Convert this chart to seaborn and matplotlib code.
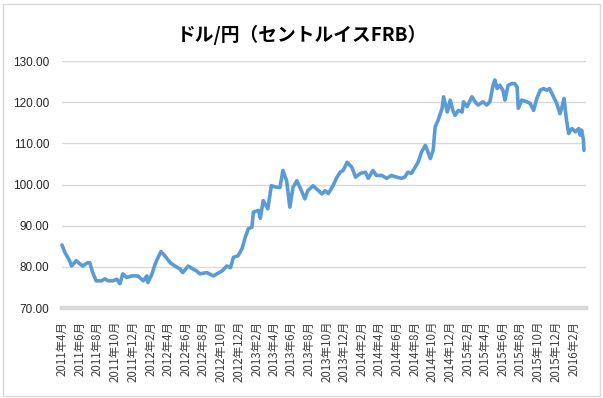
import matplotlib
matplotlib.use("Agg")
import matplotlib.pyplot as plt
from matplotlib.patches import Rectangle
import seaborn as sns
import pandas as pd

# ---- data ----
dates = [
    "2011-04-01", "2011-04-11", "2011-04-27", "2011-05-04", "2011-05-20", "2011-06-02",
    "2011-06-12", "2011-06-28", "2011-07-06", "2011-07-16", "2011-07-28", "2011-08-16",
    "2011-08-27", "2011-09-07", "2011-09-24", "2011-10-07", "2011-10-18", "2011-10-28",
    "2011-11-11", "2011-11-28", "2011-12-19", "2012-01-07", "2012-01-19", "2012-01-23",
    "2012-02-06", "2012-02-17", "2012-02-27", "2012-03-08", "2012-03-21", "2012-04-09",
    "2012-04-25", "2012-05-12", "2012-05-22", "2012-06-10", "2012-06-26", "2012-07-09",
    "2012-07-20", "2012-08-13", "2012-09-05", "2012-09-17", "2012-10-05", "2012-10-21",
    "2012-11-03", "2012-11-13", "2012-11-29", "2012-12-13", "2012-12-24", "2013-01-04",
    "2013-01-16", "2013-01-21", "2013-02-08", "2013-02-14", "2013-02-24", "2013-03-12",
    "2013-03-24", "2013-04-12", "2013-04-23", "2013-05-03", "2013-05-16", "2013-05-27",
    "2013-06-07", "2013-06-20", "2013-07-01", "2013-07-18", "2013-07-28", "2013-08-15",
    "2013-09-03", "2013-09-15", "2013-09-26", "2013-10-07", "2013-10-23", "2013-11-06",
    "2013-11-17", "2013-11-27", "2013-12-11", "2013-12-27", "2014-01-09", "2014-01-26",
    "2014-02-12", "2014-02-22", "2014-03-10", "2014-03-22", "2014-04-10", "2014-04-26",
    "2014-05-13", "2014-05-30", "2014-06-17", "2014-06-28", "2014-07-09", "2014-07-21",
    "2014-08-03", "2014-08-13", "2014-08-25", "2014-09-07", "2014-09-14", "2014-09-24",
    "2014-10-04", "2014-10-11", "2014-10-21", "2014-11-04", "2014-11-09", "2014-11-22",
    "2014-12-02", "2014-12-11", "2014-12-19", "2014-12-30", "2015-01-12", "2015-01-17",
    "2015-01-29", "2015-02-15", "2015-02-26", "2015-03-08", "2015-03-25", "2015-04-07",
    "2015-04-18", "2015-04-29", "2015-05-05", "2015-05-13", "2015-05-22", "2015-06-02",
    "2015-06-09", "2015-06-20", "2015-07-02", "2015-07-13", "2015-07-21", "2015-07-25",
    "2015-08-06", "2015-08-23", "2015-09-04", "2015-09-16", "2015-09-27", "2015-10-09",
    "2015-10-20", "2015-11-01", "2015-11-10", "2015-11-24", "2015-12-05", "2015-12-16",
    "2015-12-25", "2015-12-30", "2016-01-07", "2016-01-15", "2016-01-26", "2016-02-08",
    "2016-02-19", "2016-02-24", "2016-02-29", "2016-03-06", "2016-03-08",
]
usd_jpy = [
    85.3, 83.5, 81.5, 80.2, 81.5, 80.7,
    80.2, 81.0, 81.0, 78.6, 76.6, 76.6,
    77.1, 76.6, 76.6, 77.0, 75.9, 78.3,
    77.4, 77.8, 77.8, 76.6, 77.8, 76.2,
    78.3, 80.7, 82.3, 83.7, 82.7, 81.0,
    80.2, 79.5, 78.6, 80.2, 79.5, 79.0,
    78.3, 78.6, 77.8, 78.3, 79.0, 80.2,
    79.8, 82.3, 82.7, 84.4, 87.2, 89.3,
    89.6, 93.3, 93.7, 91.8, 96.1, 94.1,
    99.7, 99.3, 99.3, 103.4, 100.9, 94.5,
    99.3, 100.9, 99.3, 96.5, 98.5, 99.7,
    98.5, 97.7, 98.5, 97.8, 99.7, 101.8,
    103.0, 103.4, 105.4, 104.2, 101.8, 102.7,
    103.0, 101.5, 103.4, 102.2, 102.2, 101.5,
    102.2, 101.8, 101.5, 101.8, 103.0, 102.7,
    104.2, 105.4, 107.9, 109.5, 108.3, 106.3,
    108.3, 114.0, 115.6, 118.5, 121.3, 117.6,
    120.5, 118.0, 116.8, 118.0, 117.6, 120.1,
    118.9, 121.3, 120.1, 119.3, 120.1, 119.3,
    120.1, 124.1, 125.4, 123.3, 124.1, 122.9,
    120.5, 124.1, 124.5, 124.5, 123.7, 118.5,
    120.5, 120.1, 119.7, 118.0, 120.9, 122.9,
    123.3, 122.9, 123.3, 121.3, 119.7, 117.2,
    119.3, 120.9, 116.0, 112.4, 113.6, 112.8,
    113.6, 112.0, 113.2, 110.8, 108.3,
]
tick_dates = [
    "2011-04-01", "2011-06-01", "2011-08-01", "2011-10-01", "2011-12-01",
    "2012-02-01", "2012-04-01", "2012-06-01", "2012-08-01", "2012-10-01", "2012-12-01",
    "2013-02-01", "2013-04-01", "2013-06-01", "2013-08-01", "2013-10-01", "2013-12-01",
    "2014-02-01", "2014-04-01", "2014-06-01", "2014-08-01", "2014-10-01", "2014-12-01",
    "2015-02-01", "2015-04-01", "2015-06-01", "2015-08-01", "2015-10-01", "2015-12-01",
    "2016-02-01",
]
tick_labels = [
    "2011年4月", "2011年6月", "2011年8月", "2011年10月", "2011年12月",
    "2012年2月", "2012年4月", "2012年6月", "2012年8月", "2012年10月", "2012年12月",
    "2013年2月", "2013年4月", "2013年6月", "2013年8月", "2013年10月", "2013年12月",
    "2014年2月", "2014年4月", "2014年6月", "2014年8月", "2014年10月", "2014年12月",
    "2015年2月", "2015年4月", "2015年6月", "2015年8月", "2015年10月", "2015年12月",
    "2016年2月",
]
y_ticks = [70, 80, 90, 100, 110, 120, 130]
title = "ドル/円（セントルイスFRB）"

df = pd.DataFrame({"date": pd.to_datetime(dates), "rate": usd_jpy})

# ---- styling ----
sns.set_style("white")
plt.rcParams["font.family"] = ["Liberation Sans", "Noto Sans CJK JP", "DejaVu Sans"]

W, H = 603, 398
fig = plt.figure(figsize=(W / 100, H / 100), dpi=100)
fig.patch.set_facecolor("white")

# outer chart border
fig.patches.append(Rectangle((3 / W, 2 / H), 597 / W, 392 / H, transform=fig.transFigure,
                             fill=False, edgecolor="#d9d9d9", linewidth=1.0))

left, right = 62 / W, 586 / W
bottom, top = 1 - 308 / H, 1 - 61 / H
ax = fig.add_axes([left, bottom, right - left, top - bottom])

sns.lineplot(data=df, x="date", y="rate", ax=ax, color="#5b9bd5", linewidth=2.6,
             solid_joinstyle="round", solid_capstyle="round", clip_on=False)

ax.set_xlim(pd.Timestamp("2011-04-01"), pd.Timestamp("2016-03-15"))
ax.set_ylim(70, 130)
ax.set_yticks(y_ticks)
ax.set_yticklabels([f"{v:.2f}" for v in y_ticks], family=["Liberation Sans"])
ax.yaxis.grid(True, color="#d9d9d9", linewidth=1.0)
ax.set_axisbelow(True)

ax.set_xticks(pd.to_datetime(tick_dates))
ax.set_xticklabels(tick_labels, rotation=90, ha="center", va="top",
                   family=["Noto Sans CJK JP", "DejaVu Sans"], fontsize=8.3, color="#404040")
ax.tick_params(axis="x", length=0, pad=9)
ax.tick_params(axis="y", length=0, pad=9, labelsize=8.5, labelcolor="#262626")

ax.set_xlabel("")
ax.set_ylabel("")
for s in ["left", "right", "top"]:
    ax.spines[s].set_visible(False)
ax.spines["bottom"].set_color("#d9d9d9")
ax.spines["bottom"].set_linewidth(3.2)

fig.text(0.5, 1 - 35 / H, title, ha="center", va="center", fontsize=13.5,
         fontweight="bold", family=["Noto Sans CJK JP", "DejaVu Sans"], color="black")

fig.savefig("out.png", dpi=100)
